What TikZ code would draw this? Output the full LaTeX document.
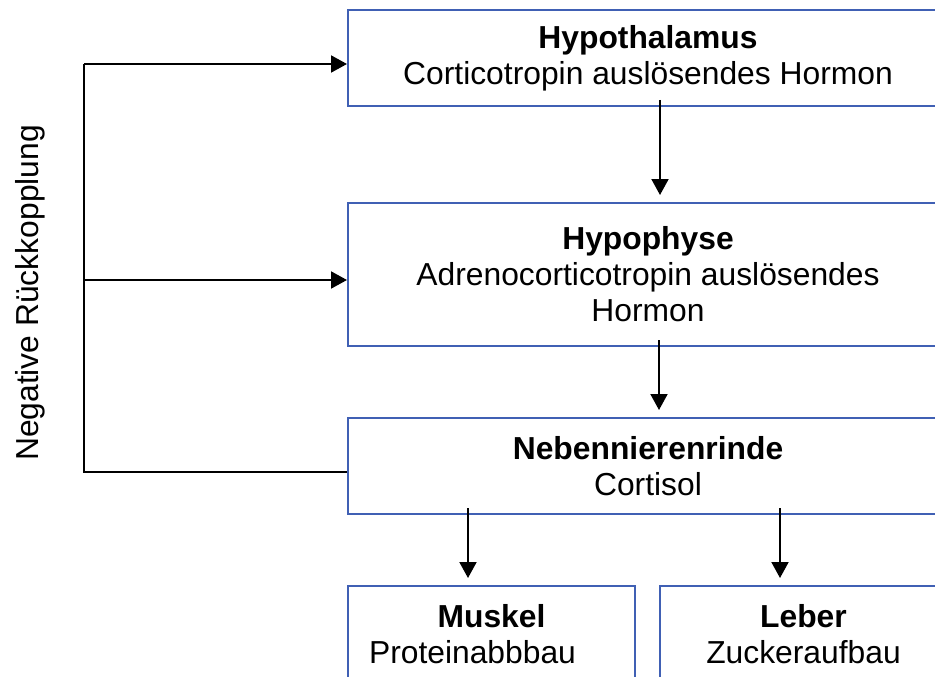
\documentclass[tikz,border=0pt]{standalone}
\usepackage{fontspec}
\setmainfont{Liberation Sans}
\usetikzlibrary{arrows.meta}
\definecolor{boxblue}{RGB}{64,96,180}
\begin{document}
\begin{tikzpicture}[x=1pt,y=-1pt,
  font=\fontsize{31.8}{36}\selectfont,
  organ/.style={draw=boxblue, line width=2pt, align=center, inner sep=0pt},
  arr/.style={draw=black, line width=2pt, -{Triangle[length=16pt,width=17pt]}},
  fb/.style={draw=black, line width=2pt}]
\useasboundingbox (0,0) rectangle (935,677);

% hormone cascade
\node[organ, minimum width=600pt, minimum height=96pt] (hyp) at (648,58)
  {\textbf{Hypothalamus}\\Corticotropin auslösendes Hormon};
\node[organ, minimum width=600pt, minimum height=143pt] (hph) at (648,274.5)
  {\textbf{Hypophyse}\\Adrenocorticotropin auslösendes\\Hormon};
\node[organ, minimum width=600pt, minimum height=96pt] (neb) at (648,466)
  {\textbf{Nebennierenrinde}\\Cortisol};
\node[organ, minimum width=287pt, minimum height=96pt] (mus) at (491.5,634)
  {\textbf{Muskel}\\Proteinabbbau\hspace*{38pt}};
\node[organ, minimum width=287pt, minimum height=96pt] (leb) at (803.5,634)
  {\textbf{Leber}\\Zuckeraufbau};

% downward arrows
\draw[arr, shorten <=-7pt, shorten >=7pt] ([xshift=12pt]hyp.south) -- ([xshift=12pt]hph.north);
\draw[arr, shorten <=-7pt, shorten >=7pt] ([xshift=11pt]hph.south) -- ([xshift=11pt]neb.north);
\coordinate (m1) at ([xshift=-23.5pt]mus.north);
\coordinate (l1) at ([xshift=-23.5pt]leb.north);
\draw[arr, shorten <=-7pt, shorten >=7pt] (neb.south -| m1) -- (m1);
\draw[arr, shorten <=-7pt, shorten >=7pt] (neb.south -| l1) -- (l1);

% feedback loop
\coordinate (fbtop) at (84,64);
\coordinate (fbmid) at (84,280);
\coordinate (fbbot) at (84,472);
\draw[fb] (neb.west |- fbbot) -- (fbbot) -- (fbtop);
\draw[arr] (fbtop) -- (fbtop -| hyp.west);
\draw[arr] (fbmid) -- (fbmid -| hph.west);

\node[rotate=90] (lbl) at (30,293) {Negative Rückkopplung};
\end{tikzpicture}
\end{document}
